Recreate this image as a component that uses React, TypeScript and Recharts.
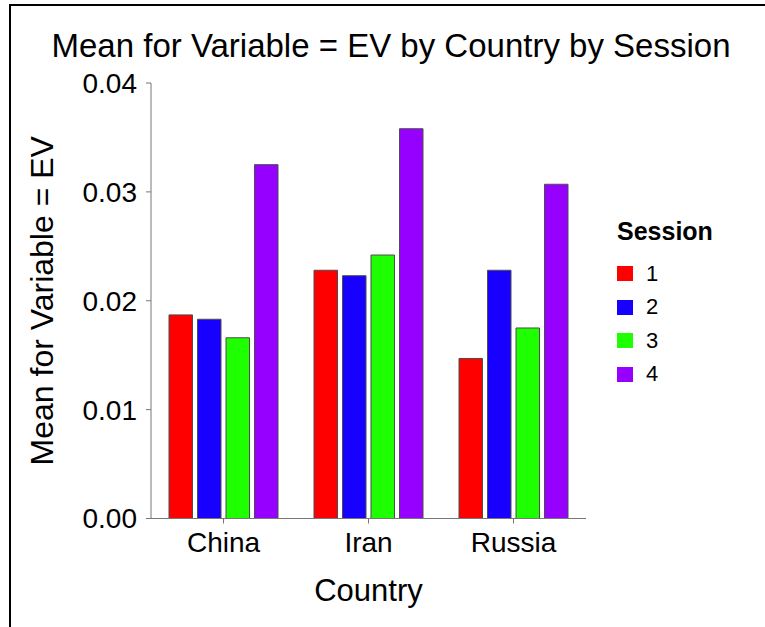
import React from 'react';
import { BarChart, Bar, XAxis, YAxis, Legend } from 'recharts';

// Mean of EV per country, one array per session
const countries = ['China', 'Iran', 'Russia'];
const session1 = [0.0187, 0.0228, 0.0147];
const session2 = [0.0183, 0.0223, 0.0228];
const session3 = [0.0166, 0.0242, 0.0175];
const session4 = [0.0325, 0.0358, 0.0307];
const sessionNames = ['1', '2', '3', '4'];
const sessionColors = ['#FF0000', '#1800FF', '#1EFF00', '#9600FF'];
const yTicks = [0, 0.01, 0.02, 0.03, 0.04];

const FONT = '"Liberation Sans", Arial, sans-serif';

const data = countries.map((country, i) => ({
  country,
  s1: session1[i],
  s2: session2[i],
  s3: session3[i],
  s4: session4[i],
}));

const seriesKeys = ['s1', 's2', 's3', 's4'];

function SessionLegend({ payload }: any) {
  const items = payload || [];
  return (
    <div style={{ fontFamily: FONT, color: '#000' }}>
      <div style={{ fontSize: 25, fontWeight: 'bold', lineHeight: '25px', height: 25, marginBottom: 12.7 }}>
        Session
      </div>
      {items.map((item: any) => (
        <div key={item.value} style={{ display: 'flex', alignItems: 'center', height: 33.67 }}>
          <span style={{ display: 'inline-block', width: 16, height: 15, background: item.color }} />
          <span style={{ fontSize: 22, marginLeft: 13, lineHeight: '22px' }}>{item.value}</span>
        </div>
      ))}
    </div>
  );
}

export default function App() {
  return (
    <div style={{ position: 'fixed', left: 0, top: 0, width: 765, height: 627, overflow: 'hidden', background: '#fff' }}>
      {/* partial frame, only top and left edges show */}
      <div style={{ position: 'absolute', left: 9, top: 4, width: 756, height: 2, background: '#000' }} />
      <div style={{ position: 'absolute', left: 9, top: 4, width: 2, height: 623, background: '#000' }} />

      <div
        style={{
          position: 'absolute',
          left: 0,
          width: 782,
          top: 29,
          textAlign: 'center',
          fontFamily: FONT,
          fontSize: 33,
          lineHeight: '33px',
          color: '#000',
          whiteSpace: 'nowrap',
        }}
      >
        Mean for Variable = EV by Country by Session
      </div>

      <div style={{ position: 'absolute', left: 0, top: 0 }}>
        <BarChart
          width={765}
          height={627}
          data={data}
          margin={{ top: 83, right: 179, left: 0, bottom: 0 }}
          barSize={23.5}
          barGap={5}
          style={{ fontFamily: FONT }}
        >
          <XAxis
            dataKey="country"
            height={108.5}
            stroke="#777"
            tickSize={5}
            tickMargin={9}
            tick={{ fill: '#000', fontSize: 28 }}
            label={{ value: 'Country', position: 'insideTop', offset: 60, style: { fill: '#000', fontSize: 31, textAnchor: 'middle' } }}
          />
          <YAxis
            width={151}
            domain={[0, 0.04]}
            ticks={yTicks}
            tickFormatter={(v: number) => v.toFixed(2)}
            stroke="#777"
            tickSize={5}
            tickMargin={9}
            tick={{ fill: '#000', fontSize: 28 }}
            label={{
              value: 'Mean for Variable = EV',
              angle: -90,
              position: 'insideLeft',
              offset: 42,
              style: { fill: '#000', fontSize: 32, textAnchor: 'middle' },
            }}
          />
          <Legend
            layout="vertical"
            align="center"
            verticalAlign="middle"
            content={<SessionLegend />}
            wrapperStyle={{ left: 617, top: 219, width: 148 }}
          />
          {seriesKeys.map((key, i) => (
            <Bar
              key={key}
              dataKey={key}
              name={sessionNames[i]}
              fill={sessionColors[i]}
              stroke="#4d4d4d"
              strokeWidth={1}
              isAnimationActive={false}
            />
          ))}
        </BarChart>
      </div>
    </div>
  );
}
